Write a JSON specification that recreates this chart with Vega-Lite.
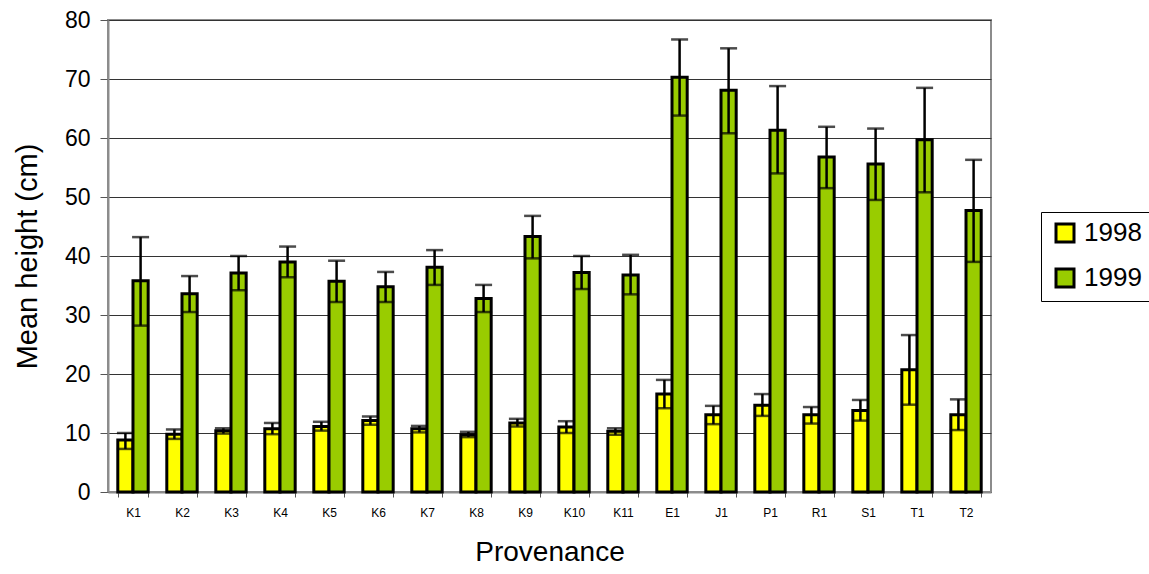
{
  "$schema": "https://vega.github.io/schema/vega-lite/v6.json",
  "autosize": "none",
  "width": 883,
  "height": 472,
  "padding": {"left": 108, "top": 20, "right": 158, "bottom": 82},
  "background": "white",
  "config": {
    "font": "Liberation Sans",
    "view": {"stroke": "#8c8c8c", "strokeWidth": 2},
    "axis": {"labelColor": "#000", "titleColor": "#000", "titleFontWeight": "normal"},
    "axisY": {
      "titleFontSize": 29,
      "titlePadding": 22,
      "labelFontSize": 23,
      "labelPadding": 10,
      "labelOverlap": false,
      "tickSize": 8,
      "tickColor": "#555",
      "domainColor": "#8c8c8c",
      "domainWidth": 2,
      "grid": true,
      "gridColor": "#333",
      "gridWidth": 1
    }
  },
  "data": {
    "values": [
      {"prov": "K1", "year": "1998", "mean": 8.8, "lo": 7.3, "hi": 10.0},
      {"prov": "K1", "year": "1999", "mean": 35.8, "lo": 28.2, "hi": 43.2},
      {"prov": "K2", "year": "1998", "mean": 9.8, "lo": 9.0, "hi": 10.6},
      {"prov": "K2", "year": "1999", "mean": 33.6, "lo": 30.5, "hi": 36.6},
      {"prov": "K3", "year": "1998", "mean": 10.4, "lo": 9.9, "hi": 10.8},
      {"prov": "K3", "year": "1999", "mean": 37.1, "lo": 34.2, "hi": 40.0},
      {"prov": "K4", "year": "1998", "mean": 10.7, "lo": 9.8, "hi": 11.7},
      {"prov": "K4", "year": "1999", "mean": 39.0, "lo": 36.4, "hi": 41.6},
      {"prov": "K5", "year": "1998", "mean": 11.1, "lo": 10.4, "hi": 11.9},
      {"prov": "K5", "year": "1999", "mean": 35.7, "lo": 32.2, "hi": 39.2},
      {"prov": "K6", "year": "1998", "mean": 12.1, "lo": 11.4, "hi": 12.8},
      {"prov": "K6", "year": "1999", "mean": 34.8, "lo": 32.2, "hi": 37.3},
      {"prov": "K7", "year": "1998", "mean": 10.7, "lo": 10.1, "hi": 11.2},
      {"prov": "K7", "year": "1999", "mean": 38.1, "lo": 35.1, "hi": 41.0},
      {"prov": "K8", "year": "1998", "mean": 9.7, "lo": 9.3, "hi": 10.2},
      {"prov": "K8", "year": "1999", "mean": 32.8, "lo": 30.5, "hi": 35.1},
      {"prov": "K9", "year": "1998", "mean": 11.7, "lo": 11.1, "hi": 12.4},
      {"prov": "K9", "year": "1999", "mean": 43.3, "lo": 39.6, "hi": 46.8},
      {"prov": "K10", "year": "1998", "mean": 11.0, "lo": 10.0, "hi": 12.0},
      {"prov": "K10", "year": "1999", "mean": 37.2, "lo": 34.4, "hi": 40.0},
      {"prov": "K11", "year": "1998", "mean": 10.3, "lo": 9.7, "hi": 10.8},
      {"prov": "K11", "year": "1999", "mean": 36.8, "lo": 33.5, "hi": 40.2},
      {"prov": "E1", "year": "1998", "mean": 16.6, "lo": 14.2, "hi": 19.0},
      {"prov": "E1", "year": "1999", "mean": 70.3, "lo": 63.8, "hi": 76.7},
      {"prov": "J1", "year": "1998", "mean": 13.1, "lo": 11.5, "hi": 14.6},
      {"prov": "J1", "year": "1999", "mean": 68.1, "lo": 60.8, "hi": 75.2},
      {"prov": "P1", "year": "1998", "mean": 14.7, "lo": 12.9, "hi": 16.6},
      {"prov": "P1", "year": "1999", "mean": 61.3, "lo": 54.0, "hi": 68.8},
      {"prov": "R1", "year": "1998", "mean": 13.1, "lo": 11.6, "hi": 14.4},
      {"prov": "R1", "year": "1999", "mean": 56.8, "lo": 51.5, "hi": 61.9},
      {"prov": "S1", "year": "1998", "mean": 13.8, "lo": 12.1, "hi": 15.6},
      {"prov": "S1", "year": "1999", "mean": 55.6, "lo": 49.5, "hi": 61.6},
      {"prov": "T1", "year": "1998", "mean": 20.7, "lo": 14.8, "hi": 26.6},
      {"prov": "T1", "year": "1999", "mean": 59.7, "lo": 50.8, "hi": 68.5},
      {"prov": "T2", "year": "1998", "mean": 13.1, "lo": 10.5, "hi": 15.7},
      {"prov": "T2", "year": "1999", "mean": 47.7, "lo": 39.0, "hi": 56.3}
    ]
  },
  "encoding": {
    "x": {
      "field": "prov",
      "type": "nominal",
      "sort": null,
      "scale": {"paddingInner": 0.38},
      "axis": {
        "title": "Provenance",
        "titleFontSize": 28,
        "titlePadding": 20,
        "labelFontSize": 12,
        "labelAngle": 0,
        "labelPadding": 10,
        "tickBand": "extent",
        "tickSize": 5,
        "tickColor": "#555",
        "domainColor": "#8c8c8c",
        "domainWidth": 2,
        "grid": false
      }
    },
    "xOffset": {"field": "year", "type": "nominal"}
  },
  "layer": [
    {
      "mark": {"type": "bar", "stroke": "#000", "strokeWidth": 3},
      "encoding": {
        "y": {
          "field": "mean",
          "type": "quantitative",
          "scale": {"domain": [0, 80], "nice": false},
          "axis": {"title": "Mean height (cm)", "values": [0, 10, 20, 30, 40, 50, 60, 70, 80]}
        },
        "color": {
          "field": "year",
          "type": "nominal",
          "scale": {"domain": ["1998", "1999"], "range": ["#ffff00", "#99cc00"]},
          "legend": {
            "title": null,
            "orient": "none",
            "legendX": 933,
            "legendY": 192,
            "labelFontSize": 26,
            "labelColor": "#000",
            "symbolType": "square",
            "symbolSize": 324,
            "symbolStrokeColor": "#000",
            "symbolStrokeWidth": 3,
            "symbolOpacity": 1,
            "symbolOffset": 3,
            "rowPadding": 15,
            "labelOffset": 6,
            "padding": 8,
            "strokeColor": "#000",
            "fillColor": "#fff"
          }
        }
      }
    },
    {
      "mark": {"type": "rule", "color": "#000", "strokeWidth": 2.5},
      "encoding": {
        "y": {"field": "lo", "type": "quantitative", "axis": {"title": "Mean height (cm)", "values": [0, 10, 20, 30, 40, 50, 60, 70, 80]}},
        "y2": {"field": "hi"}
      }
    },
    {
      "mark": {"type": "tick", "color": "#000", "thickness": 2.5, "size": 17, "orient": "horizontal"},
      "encoding": {"y": {"field": "hi", "type": "quantitative", "axis": {"title": "Mean height (cm)", "values": [0, 10, 20, 30, 40, 50, 60, 70, 80]}}}
    },
    {
      "mark": {"type": "tick", "color": "#000", "thickness": 2.5, "size": 17, "orient": "horizontal"},
      "encoding": {"y": {"field": "lo", "type": "quantitative", "axis": {"title": "Mean height (cm)", "values": [0, 10, 20, 30, 40, 50, 60, 70, 80]}}}
    }
  ]
}
